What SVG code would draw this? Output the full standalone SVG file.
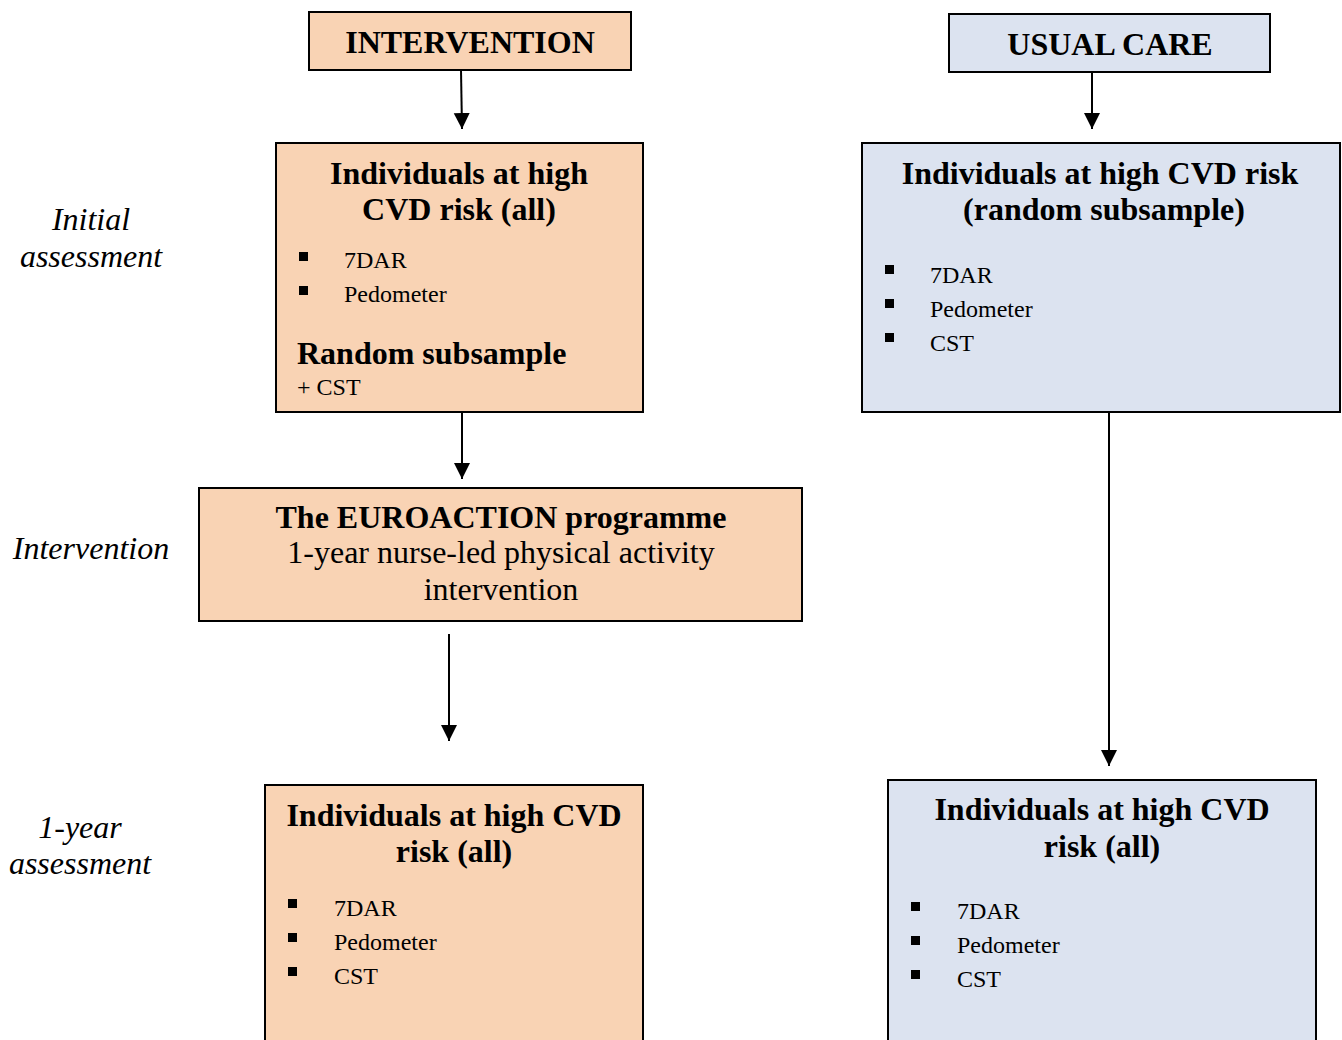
<svg xmlns="http://www.w3.org/2000/svg" width="1342" height="1040" viewBox="0 0 1342 1040">
  <style>
    .peach { fill: #F9D3B4; stroke: #000; stroke-width: 2; }
    .blue { fill: #DCE3F0; stroke: #000; stroke-width: 2; }
    .title { font-family: "Liberation Serif", "Times New Roman", serif; font-weight: bold; font-size: 32px; text-anchor: middle; fill: #000; }
    .head { font-family: "Liberation Serif", "Times New Roman", serif; font-weight: bold; font-size: 32px; fill: #000; }
    .sub { font-family: "Liberation Serif", "Times New Roman", serif; font-size: 32px; text-anchor: middle; fill: #000; }
    .item { font-family: "Liberation Serif", "Times New Roman", serif; font-size: 24px; fill: #000; }
    .stage { font-family: "Liberation Serif", "Times New Roman", serif; font-style: italic; font-size: 32px; text-anchor: middle; fill: #000; }
    .bullet { fill: #000; }
    .conn { stroke: #000; stroke-width: 2; fill: none; marker-end: url(#arrow); }
  </style>
  <defs>
    <marker id="arrow" markerUnits="userSpaceOnUse" markerWidth="17" markerHeight="17" refX="16" refY="8" orient="auto">
      <path d="M0,0 L16,8 L0,16 Z" fill="#000"/>
    </marker>
  </defs>

  <rect width="1342" height="1040" fill="#fff"/>

  <!-- stage labels -->
  <g id="stage-initial">
    <text class="stage" x="91" y="230">Initial</text>
    <text class="stage" x="91" y="267">assessment</text>
  </g>
  <g id="stage-intervention">
    <text class="stage" x="91" y="559">Intervention</text>
  </g>
  <g id="stage-followup">
    <text class="stage" x="80" y="838">1-year</text>
    <text class="stage" x="80" y="874">assessment</text>
  </g>

  <!-- intervention arm -->
  <g id="intervention">
    <rect class="peach" x="309" y="12" width="322" height="58"/>
    <text class="title" x="470" y="53">INTERVENTION</text>
  </g>

  <g id="int-baseline">
    <rect class="peach" x="276" y="143" width="367" height="269"/>
    <text class="title" x="459" y="184">Individuals at high</text>
    <text class="title" x="459" y="220">CVD risk (all)</text>
    <rect class="bullet" x="299" y="252" width="9" height="9"/>
    <text class="item" x="344" y="268">7DAR</text>
    <rect class="bullet" x="299" y="286" width="9" height="9"/>
    <text class="item" x="344" y="302">Pedometer</text>
    <text class="head" x="297" y="364">Random subsample</text>
    <text class="item" x="297" y="395">+ CST</text>
  </g>

  <g id="euroaction">
    <rect class="peach" x="199" y="488" width="603" height="133"/>
    <text class="title" x="501" y="528">The EUROACTION programme</text>
    <text class="sub" x="501" y="563">1-year nurse-led physical activity</text>
    <text class="sub" x="501" y="600">intervention</text>
  </g>

  <g id="int-followup">
    <rect class="peach" x="265" y="785" width="378" height="265"/>
    <text class="title" x="454" y="826">Individuals at high CVD</text>
    <text class="title" x="454" y="862">risk (all)</text>
    <rect class="bullet" x="288" y="899" width="9" height="9"/>
    <text class="item" x="334" y="916">7DAR</text>
    <rect class="bullet" x="288" y="933" width="9" height="9"/>
    <text class="item" x="334" y="950">Pedometer</text>
    <rect class="bullet" x="288" y="967" width="9" height="9"/>
    <text class="item" x="334" y="984">CST</text>
  </g>

  <!-- usual care arm -->
  <g id="usual-care">
    <rect class="blue" x="949" y="14" width="321" height="58"/>
    <text class="title" x="1110" y="55">USUAL CARE</text>
  </g>

  <g id="uc-baseline">
    <rect class="blue" x="862" y="143" width="478" height="269"/>
    <text class="title" x="1100" y="184">Individuals at high CVD risk</text>
    <text class="title" x="1104" y="220">(random subsample)</text>
    <rect class="bullet" x="885" y="265" width="9" height="9"/>
    <text class="item" x="930" y="283">7DAR</text>
    <rect class="bullet" x="885" y="299" width="9" height="9"/>
    <text class="item" x="930" y="317">Pedometer</text>
    <rect class="bullet" x="885" y="333" width="9" height="9"/>
    <text class="item" x="930" y="351">CST</text>
  </g>

  <g id="uc-followup">
    <rect class="blue" x="888" y="780" width="428" height="270"/>
    <text class="title" x="1102" y="820">Individuals at high CVD</text>
    <text class="title" x="1102" y="857">risk (all)</text>
    <rect class="bullet" x="911" y="902" width="9" height="9"/>
    <text class="item" x="957" y="919">7DAR</text>
    <rect class="bullet" x="911" y="936" width="9" height="9"/>
    <text class="item" x="957" y="953">Pedometer</text>
    <rect class="bullet" x="911" y="970" width="9" height="9"/>
    <text class="item" x="957" y="987">CST</text>
  </g>

  <!-- connectors -->
  <g id="connectors">
    <line class="conn" x1="461" y1="70" x2="462" y2="129"/>
    <line class="conn" x1="462" y1="412" x2="462" y2="479"/>
    <line class="conn" x1="449" y1="634" x2="449" y2="741"/>
    <line class="conn" x1="1092" y1="72" x2="1092" y2="129"/>
    <line class="conn" x1="1109" y1="412" x2="1109" y2="766"/>
  </g>
</svg>
